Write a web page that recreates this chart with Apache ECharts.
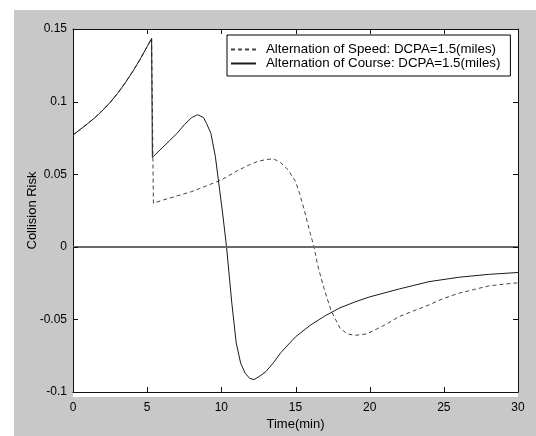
<!DOCTYPE html>
<html>
<head>
<meta charset="utf-8">
<script src="https://cdn.jsdelivr.net/npm/echarts@6/dist/echarts.min.js"></script>
<style>
html,body{margin:0;padding:0;background:#fff;}
#bg{position:absolute;left:14px;top:10px;width:522px;height:426px;background:#c8c8c8;}
#plotbg{position:absolute;left:73px;top:29px;width:445px;height:368px;background:#fff;}
#chart{position:absolute;left:0;top:0;width:536px;height:436px;}
</style>
</head>
<body>
<div id="bg"></div>
<div id="plotbg"></div>
<div id="chart"></div>
<script>
// Alternation of Speed (dashed)
const speedTime = [0, 0.5, 1, 1.5, 2, 2.5, 3, 3.5, 4, 4.5, 5, 5.3, 5.42, 6, 7, 8, 8.5, 9, 10, 10.5, 11, 11.5, 12, 12.5, 13, 13.5, 14, 14.5, 15, 15.3, 15.6, 16, 16.25, 16.5, 16.9, 17.4, 18, 18.5, 19, 19.8, 20.5, 21, 22, 23, 24, 25, 26, 27, 28, 29, 30];
const speedRisk = [0.077, 0.0809, 0.0849, 0.0892, 0.094, 0.0994, 0.1056, 0.1126, 0.1203, 0.1287, 0.1379, 0.1435, 0.030, 0.032, 0.035, 0.038, 0.040, 0.042, 0.046, 0.049, 0.052, 0.0545, 0.057, 0.059, 0.060, 0.0607, 0.058, 0.053, 0.045, 0.036, 0.025, 0.009, 0, -0.013, -0.028, -0.044, -0.056, -0.060, -0.061, -0.060, -0.0565, -0.054, -0.048, -0.044, -0.040, -0.0355, -0.032, -0.0295, -0.027, -0.0258, -0.0248];
// Alternation of Course (solid)
const courseTime = [0, 0.5, 1, 1.5, 2, 2.5, 3, 3.5, 4, 4.5, 5, 5.3, 5.35, 6, 6.5, 7, 7.5, 8, 8.4, 8.8, 9.0, 9.3, 9.6, 9.9, 10.1, 10.35, 10.7, 11, 11.3, 11.6, 11.9, 12.2, 12.6, 13, 13.5, 14, 15, 16, 17, 18, 19, 20, 22, 24, 26, 28, 30];
const courseRisk = [0.077, 0.0809, 0.0849, 0.0892, 0.094, 0.0994, 0.1056, 0.1126, 0.1203, 0.1287, 0.1379, 0.1435, 0.0616, 0.068, 0.073, 0.078, 0.084, 0.089, 0.091, 0.089, 0.085, 0.078, 0.062, 0.038, 0.022, 0, -0.038, -0.066, -0.080, -0.087, -0.0905, -0.0915, -0.089, -0.086, -0.080, -0.073, -0.062, -0.054, -0.0475, -0.042, -0.038, -0.0345, -0.029, -0.024, -0.021, -0.019, -0.0177];

// Tick values
const xTicks = [0, 5, 10, 15, 20, 25, 30];
const yTicks = [-0.1, -0.05, 0, 0.05, 0.1, 0.15];

const seriesNames = ['Alternation of Speed: DCPA=1.5(miles)', 'Alternation of Course: DCPA=1.5(miles)'];
const xTitle = 'Time(min)';
const yTitle = 'Collision Risk';

(function () {
  const pair = (t, v) => t.map((x, i) => [x, v[i]]);
  const font = "'Liberation Sans', Arial, sans-serif";

  const chart = echarts.init(document.getElementById('chart'), null, {renderer: 'canvas'});
  const lineSty = {show: true, onZero: false, lineStyle: {color: '#111', width: 1}};
  const noTick = {show: false};
  const xScale = {type: 'value', min: xTicks[0], max: xTicks[xTicks.length - 1], interval: 5, splitLine: {show: false}};
  const yScale = {type: 'value', min: yTicks[0], max: yTicks[yTicks.length - 1], interval: 0.05, splitLine: {show: false}};

  chart.setOption({
    backgroundColor: 'transparent',
    animation: false,
    textStyle: {fontFamily: font},
    grid: {left: 73, top: 29, right: 18, bottom: 39, show: false},
    legend: {
      data: seriesNames,
      orient: 'vertical',
      left: 227, top: 35,
      itemWidth: 25, itemHeight: 14, itemGap: 1,
      padding: [8, 10, 6, 3],
      backgroundColor: '#fff', borderColor: '#000', borderWidth: 1,
      itemStyle: {opacity: 0},
      textStyle: {color: '#000', fontSize: 13.3, fontFamily: font, padding: [0, 0, 0, 5]}
    },
    xAxis: [
      Object.assign({}, xScale, {position: 'bottom', axisLine: lineSty, axisTick: noTick,
        name: xTitle, nameLocation: 'middle', nameGap: 26, nameMoveOverlap: false,
        nameTextStyle: {color: '#000', fontSize: 13, fontFamily: font},
        axisLabel: {color: '#000', fontSize: 12, fontFamily: font, margin: 10}}),
      Object.assign({}, xScale, {position: 'top', axisLine: lineSty, axisTick: noTick, axisLabel: {show: false}})
    ],
    yAxis: [
      Object.assign({}, yScale, {position: 'left', axisLine: lineSty, axisTick: noTick,
        name: yTitle, nameLocation: 'middle', nameGap: 34, nameMoveOverlap: false,
        nameTextStyle: {color: '#000', fontSize: 13, fontFamily: font},
        axisLabel: {color: '#000', fontSize: 12, fontFamily: font, margin: 6}}),
      Object.assign({}, yScale, {position: 'right', axisLine: lineSty, axisTick: noTick, axisLabel: {show: false}})
    ],
    series: [
      {
        name: seriesNames[0], type: 'line', xAxisIndex: 0, yAxisIndex: 0, data: pair(speedTime, speedRisk),
        showSymbol: false, symbol: 'none',
        lineStyle: {color: '#444', width: 1, type: [4, 3]},
        itemStyle: {color: '#444'},
        markLine: {silent: true, symbol: 'none', label: {show: false},
          lineStyle: {color: '#6a6a6a', width: 2, type: 'solid'},
          data: [{yAxis: 0}]}
      },
      {
        name: seriesNames[1], type: 'line', xAxisIndex: 0, yAxisIndex: 0, data: pair(courseTime, courseRisk),
        showSymbol: false, symbol: 'none',
        lineStyle: {color: '#1a1a1a', width: 1, type: 'solid'},
        itemStyle: {color: '#1a1a1a'}
      }
    ]
  });

  // Inward (MATLAB-style) tick marks on all four sides, placed through the axes' own scales
  const TICK = 5;
  const px = v => chart.convertToPixel({xAxisIndex: 0}, v);
  const py = v => chart.convertToPixel({yAxisIndex: 0}, v);
  const gLeft = px(xTicks[0]), gRight = px(xTicks[xTicks.length - 1]);
  const gBottom = py(yTicks[0]), gTop = py(yTicks[yTicks.length - 1]);
  const tickStyle = {stroke: '#111', lineWidth: 1};
  const ticks = [];
  xTicks.forEach(v => {
    const x = Math.round(px(v)) + 0.5;
    ticks.push({type: 'line', silent: true, z: 10, shape: {x1: x, y1: gBottom, x2: x, y2: gBottom - TICK}, style: tickStyle});
    ticks.push({type: 'line', silent: true, z: 10, shape: {x1: x, y1: gTop, x2: x, y2: gTop + TICK}, style: tickStyle});
  });
  yTicks.forEach(v => {
    const y = Math.round(py(v)) + 0.5;
    ticks.push({type: 'line', silent: true, z: 10, shape: {x1: gLeft, y1: y, x2: gLeft + TICK, y2: y}, style: tickStyle});
    ticks.push({type: 'line', silent: true, z: 10, shape: {x1: gRight, y1: y, x2: gRight - TICK, y2: y}, style: tickStyle});
  });
  chart.setOption({graphic: ticks});
})();
</script>
</body>
</html>
